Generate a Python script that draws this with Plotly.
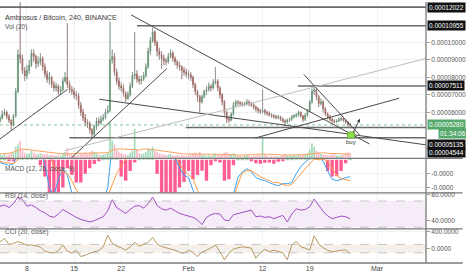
import pandas as pd
import plotly.graph_objects as go
from plotly.subplots import make_subplots

# ---------------- data (prices in 1e-5 BTC) ----------------
candle_start = "2018-01-04 00:00"
candle_step = "8h"
first_open = 5.5
closes = [5.66,5.9,6.0,5.75,5.55,5.3,5.8,7.2,9.3,9.1,
          8.4,8.1,8.4,8.7,9.4,9.2,8.8,8.9,9.1,8.6,
          8.2,7.9,8.0,7.6,7.4,7.5,7.2,7.3,7.8,8.0,
          7.6,7.3,7.2,7.0,6.95,6.4,6.0,5.7,5.4,5.35,
          5.0,4.75,5.2,5.5,5.4,5.6,5.7,6.0,6.1,9.0,
          9.2,8.3,7.8,7.5,7.4,7.1,6.8,7.0,7.5,8.1,
          8.2,7.9,7.8,7.9,8.1,8.6,9.5,10.1,10.6,10.0,
          9.5,9.3,9.1,8.95,8.9,9.2,9.4,9.1,8.9,8.7,
          8.6,8.4,8.3,8.2,8.15,8.0,7.6,7.2,6.9,6.6,
          6.9,7.2,7.3,7.5,7.4,7.7,7.8,7.4,7.0,6.6,
          6.0,5.6,5.55,5.9,6.4,6.6,6.55,6.5,6.45,6.5,
          6.6,6.5,6.45,6.3,6.2,6.1,6.05,6.1,6.0,5.95,
          5.85,5.8,5.75,5.7,5.75,5.6,5.5,5.45,5.55,5.6,
          5.75,5.8,5.85,6.0,5.8,5.6,5.85,6.1,6.6,7.2,
          7.3,6.9,6.5,6.6,6.2,5.9,5.75,5.6,5.5,5.45,
          5.5,5.6,5.65,5.55,5.45,5.3,5.28]
highs = [5.8,6.1,6.2,6.1,5.9,5.6,5.9,7.4,9.6,12.3,
         9.3,8.6,8.7,9.0,9.6,9.6,9.3,9.2,9.4,9.2,
         8.8,8.4,8.3,8.1,7.8,7.7,7.6,7.5,8.0,8.3,
         11.1,7.8,7.5,7.4,7.2,7.1,6.6,6.2,5.9,5.6,
         5.5,5.1,5.3,5.7,5.7,5.8,5.9,6.2,6.4,11.2,
         9.6,9.4,8.5,8.0,7.7,7.6,7.2,7.2,7.7,8.3,
         10.6,8.4,8.1,8.1,8.3,8.8,9.7,10.3,10.85,10.7,
         10.1,9.7,9.5,9.3,9.1,9.4,9.6,9.5,9.2,9.0,
         8.9,8.7,8.6,8.5,8.4,8.3,8.1,7.7,7.3,7.0,
         7.0,7.3,7.5,7.7,7.6,7.9,8.6,7.9,7.5,7.1,
         6.7,6.1,5.8,6.0,6.6,6.7,6.7,6.65,6.6,6.6,
         6.75,6.7,6.6,6.55,6.4,6.3,6.2,7.3,6.2,6.1,
         6.05,5.95,5.9,5.85,5.85,5.8,5.7,5.6,5.65,5.7,
         5.85,5.9,5.95,6.1,6.05,5.85,5.95,6.2,6.7,7.35,
         7.5,7.4,7.0,6.8,6.7,6.3,6.0,5.85,5.7,5.6,
         5.6,5.7,5.75,5.7,5.6,5.5,5.4]
lows = [5.4,5.6,5.8,5.6,5.4,5.0,5.2,5.7,7.1,8.8,
        8.2,7.8,7.9,8.2,8.6,8.9,8.5,8.6,8.7,8.4,
        8.0,7.7,7.6,7.4,7.2,7.2,7.0,7.0,7.2,7.7,
        7.4,7.1,7.0,6.8,6.7,6.2,5.8,5.5,5.2,5.1,
        4.8,4.55,4.6,5.0,5.2,5.3,5.5,5.6,5.9,6.0,
        8.8,8.1,7.6,7.3,7.2,6.9,6.6,6.7,6.9,7.4,
        7.9,7.7,7.6,7.6,7.8,8.0,8.5,9.3,10.0,9.8,
        9.2,9.0,8.5,8.7,8.7,8.8,9.1,8.9,8.7,8.5,
        8.4,7.9,8.1,8.0,7.9,7.8,7.4,7.0,6.6,6.0,
        6.5,6.8,7.0,7.2,7.2,7.3,7.6,7.2,6.8,6.4,
        5.8,5.4,5.4,5.5,5.8,6.3,6.4,6.35,6.35,6.35,
        6.4,6.35,6.3,6.15,6.05,5.95,5.9,5.95,5.85,5.8,
        5.75,5.7,5.65,5.6,5.6,5.5,5.4,5.2,5.35,5.45,
        5.5,5.65,5.7,5.75,5.7,5.45,5.5,5.75,6.0,6.5,
        7.0,6.7,6.3,6.4,6.0,5.8,5.6,5.5,5.4,5.35,
        5.4,5.45,5.5,5.45,5.35,5.2,5.2]
volume = [6,5,7,5,6,8,9,18,22,28,
          14,9,7,8,12,9,7,6,8,7,
          6,7,5,6,5,4,5,4,8,10,
          16,8,6,5,4,6,7,8,9,7,
          9,12,10,8,6,5,6,7,9,59,
          28,22,14,10,8,7,6,5,9,12,
          47,14,9,7,8,10,16,14,18,12,
          10,8,7,6,5,6,7,5,4,5,
          4,5,4,4,5,6,8,9,7,10,
          6,5,4,5,4,6,8,5,6,7,
          9,10,6,7,8,5,4,4,3,4,
          5,4,3,4,4,5,5,32,6,4,
          3,4,3,4,3,4,5,7,5,4,
          4,5,4,6,5,5,6,8,14,24,
          18,12,9,7,6,6,5,5,6,7,
          5,4,5,6,7,9,8]
# indicator readings, one every 2 candles
ind_every = 2
vol_ma = [7,7,8,10,13,15,14,13,12,11,
          10,9,8,7,7,7,8,8,8,8,
          9,9,8,8,9,13,15,15,14,14,
          14,13,15,15,14,13,12,10,9,8,
          7,7,7,7,7,7,7,7,6,6,
          6,6,6,5,5,5,5,6,7,7,
          7,6,6,5,5,5,5,5,6,7,
          8,9,9,8,8,7,7,7,7]
macd_line = [-1,-1.5,-2,-1.5,3,6,7,8,8,4,
             -2,-10,-13,-7,-3.3,-5.5,-12,-15,-16,-16,
             -16,-16,-16,-15,-10,5,6,5,4,4,
             4,3,3,4,5,4,3,2,1.5,0.5,
             -2.9,-5.5,-6.4,-11,-14,-15,-15,-15,-15,-15,
             -15,-15,-12.5,-6.4,-4.3,-3.2,-4.3,-6.4,-7.1,-7.5,
             -8.2,-8.9,-9.3,-8.6,-8.6,-8.2,-5,-2.5,-0.8,0.3,
             2,1,-0.5,-4,-7,-7.5,-7.1,-6.4,-6.1]
signal_line = [-0.5,-1,-1.2,-1.3,0,2,4,5.5,6.5,6,
               5,2,-2.5,-3.9,-4.3,-5,-7.5,-11,-13,-14,
               -14,-14,-14,-14,-13,-9,-5,-2,0.5,2,
               3,3.5,3.5,3.5,4,4,3.5,3,2,1,
               -1.5,-3.9,-5.3,-6.8,-11,-14,-14,-14,-14,-14,
               -14,-14,-14,-9,-4.6,-3.9,-3.9,-5,-6.1,-6.8,
               -7.5,-8.2,-8.2,-8.9,-9.3,-8.9,-7,-5,-3.2,-1.4,
               0.3,0,0.2,-0.4,-3,-5.7,-6.8,-7.1,-7.5]
macd_hist = [0.5,0.3,-0.5,-0.2,1,2,2,1.5,1,-2,
             -6,-14,-14,-14,-10,-3,-5.5,-8.2,-8.2,-5,
             -3,-1.5,-0.5,0.3,2,4,1,-6,-7.5,-4,
             -1,0.5,1,2,1,-5,-14,-14,-12,-14,
             -10,-8,-4,-7,-5.5,-3.9,-7.5,-2,-0.5,-1,
             -7.5,-7,-2,0.5,0.5,0.3,-0.3,-1.2,-1.4,-1.1,
             -1,-1.4,-0.7,-0.3,0.2,0.5,2,3,3,2,
             1,1,0.4,-4,-6,-5.7,-4,-1.2,0.4]
rsi = [62,64,60,66,76,72,62,64,60,55,
       52,47,45,50,57,53,48,45,42,40,
       38,40,43,46,55,72,60,55,51,57,
       62,63,59,66,76,63,58,56,59,55,
       51,49,47,45,41,34,45,49,51,50,
       41,40,49,51,52,54,56,46,47,45,
       46,43,46,48,38,50,58,56,57,61,
       73,64,54,47,43,45,47,46,43]
cci = [162,240,100,120,170,130,83,90,70,40,
       -60,-95,-105,-50,83,-60,-110,-40,-190,-160,
       -110,-70,-45,40,321,130,60,20,-36,40,
       150,60,100,150,270,110,50,15,-10,-36,
       -90,-110,-36,-90,-190,-80,-40,20,83,-70,
       -270,-110,-10,20,43,30,10,-230,-100,-20,
       -76,-36,-60,-100,-270,83,170,43,10,-36,
       310,110,20,-40,-76,-50,-40,-30,-115]

x_end = "2018-03-08 06:30"
tick_dates = ["2018-01-08", "2018-01-15", "2018-01-22", "2018-02-01",
              "2018-02-12", "2018-02-19", "2018-03-01"]
tick_labels = ["8", "15", "22", "Feb", "12", "19", "Mar"]
price_ticks = [6, 7, 8, 9, 10]

# drawings (date, price) in 1e-5 BTC
h_levels = [12.022, 10.955, 7.511, 5.135, 4.544]
h_starts = ["2018-01-04 00:00", "2018-01-24 08:20", "2018-02-17 06:00",
            "2018-01-31 14:00", "2018-01-14 07:40"]
label_shift = [0, 0, 0, -17, -15]
dark_lines = [("2018-01-04 00:00", 4.48, "2018-01-14 00:45", 7.32),
              ("2018-01-14 15:00", 3.40, "2018-01-28 18:45", 8.51),
              ("2018-01-23 11:15", 11.58, "2018-02-27 21:00", 4.19),
              ("2018-02-18 03:00", 8.17, "2018-02-26 09:20", 4.71),
              ("2018-01-18 18:00", 6.75, "2018-03-08 06:30", 4.14),
              ("2018-02-10 21:50", 4.53, "2018-03-04 07:00", 6.81)]
light_lines = [("2018-01-13 14:10", 3.80, "2018-03-08 06:30", 9.08)]
arrow_line = ("2018-02-25 08:40", 4.76, "2018-02-26 11:15", 5.64)
buy_box = ("2018-02-24 14:50", 4.53, "2018-02-25 15:40", 4.88)
buy_text_pos = ("2018-02-25 03:00", 4.31)
last_price = 5.28
countdown = "01:34:06"

# ---------------- figure ----------------
dates = pd.date_range(candle_start, periods=len(closes), freq=candle_step)
ind_dates = dates[::ind_every]
opens = [first_open] + closes[:-1]

FONT = "Liberation Sans"
GRID = "#eef0f3"

fig = make_subplots(rows=4, cols=1, shared_xaxes=True, vertical_spacing=0)

# volume (overlay on main pane)
vol_colors = ["rgba(90,190,130,0.55)" if c >= o else "rgba(245,120,150,0.5)"
              for o, c in zip(opens, closes)]
fig.add_trace(go.Bar(x=dates, y=volume, marker_color=vol_colors, marker_line_width=0,
                     xaxis="x", yaxis="y5", hoverinfo="skip", showlegend=False))
fig.add_trace(go.Scatter(x=ind_dates, y=vol_ma, mode="lines", line=dict(color="#f7a35c", width=1),
                         xaxis="x", yaxis="y5", hoverinfo="skip", showlegend=False))

# wicks
wx, wy = [], []
for d, lo, hi in zip(dates, lows, highs):
    wx += [d, d, None]
    wy += [lo, hi, None]
fig.add_trace(go.Scatter(x=wx, y=wy, mode="lines", line=dict(color="#8c8c8c", width=0.8),
                         hoverinfo="skip", showlegend=False), row=1, col=1)
fig.add_trace(go.Candlestick(x=dates, open=opens, high=highs, low=lows, close=closes,
                             increasing=dict(line=dict(color="#2f8a50", width=0.4), fillcolor="#3c9e5e"),
                             decreasing=dict(line=dict(color="#9e2f25", width=0.4), fillcolor="#c0392b"),
                             whiskerwidth=0, hoverinfo="skip", showlegend=False), row=1, col=1)

# MACD
hist_colors = ["#ff5c93" if v < 0 else "#a5d6a7" for v in macd_hist]
fig.add_trace(go.Bar(x=ind_dates, y=macd_hist, marker_color=hist_colors, marker_line_width=0,
                     hoverinfo="skip", showlegend=False), row=2, col=1)
fig.add_trace(go.Scatter(x=ind_dates, y=macd_line, mode="lines", line=dict(color="#3aa0f0", width=1),
                         hoverinfo="skip", showlegend=False), row=2, col=1)
fig.add_trace(go.Scatter(x=ind_dates, y=signal_line, mode="lines", line=dict(color="#ff9a45", width=1),
                         hoverinfo="skip", showlegend=False), row=2, col=1)

# RSI
fig.add_trace(go.Scatter(x=ind_dates, y=rsi, mode="lines", line=dict(color="#a04cc4", width=1),
                         hoverinfo="skip", showlegend=False), row=3, col=1)
# CCI
fig.add_trace(go.Scatter(x=ind_dates, y=cci, mode="lines", line=dict(color="#b8965e", width=1),
                         hoverinfo="skip", showlegend=False), row=4, col=1)

# domains / ranges
dom_main = [0.4011, 1.0]
dom_macd = [0.2688, 0.4011]
dom_rsi = [0.1304, 0.2688]
dom_cci = [0.0, 0.1304]

yax_common = dict(side="right", showline=False, gridcolor=GRID, zeroline=False,
                  ticks="outside", ticklen=3, tickcolor="#999",
                  tickfont=dict(family=FONT, size=6.5, color="#555"), fixedrange=True)

fig.update_layout(
    yaxis=dict(domain=dom_main, range=[3.369, 12.318], tickvals=price_ticks,
               ticktext=[f"{v * 1e-5:.8f}" for v in price_ticks], **yax_common),
    yaxis2=dict(domain=dom_macd, range=[-11.9, 0.54], tickvals=[-5, -10],
                ticktext=[f"{v * 1e-6:.4f}" for v in [-5, -10]], **yax_common),
    yaxis3=dict(domain=dom_rsi, range=[27.3, 82.4], tickvals=[40, 80],
                ticktext=[f"{v:.4f}" for v in [40, 80]], **yax_common),
    yaxis4=dict(domain=dom_cci, range=[-345, 471], tickvals=[0, 400],
                ticktext=[f"{v:.4f}" for v in [0, 400]], **yax_common),
    yaxis5=dict(overlaying="y", range=[0, 250], visible=False, fixedrange=True),
)
for i in range(1, 5):
    key = "xaxis" if i == 1 else f"xaxis{i}"
    fig.layout[key].update(range=[candle_start, x_end], tickvals=tick_dates, ticktext=tick_labels,
                           showgrid=True, gridcolor=GRID, showline=False, zeroline=False,
                           ticks="", showticklabels=(i == 4),
                           tickfont=dict(family=FONT, size=7, color="#444"),
                           rangeslider=dict(visible=False))

shapes = []
# bands
shapes.append(dict(type="rect", xref="paper", yref="y3", x0=0, x1=1, y0=30, y1=70,
                   fillcolor="rgba(156,39,176,0.09)", line_width=0, layer="below"))
for lv in (30, 70):
    shapes.append(dict(type="line", xref="paper", yref="y3", x0=0, x1=1, y0=lv, y1=lv,
                       line=dict(color="#b9b9b9", width=0.8, dash="dash")))
shapes.append(dict(type="rect", xref="paper", yref="y4", x0=0, x1=1, y0=-100, y1=100,
                   fillcolor="rgba(170,130,70,0.12)", line_width=0, layer="below"))
for lv in (-100, 100):
    shapes.append(dict(type="line", xref="paper", yref="y4", x0=0, x1=1, y0=lv, y1=lv,
                       line=dict(color="#b9b9b9", width=0.8, dash="dash")))
# price drawings
shapes.append(dict(type="line", xref="paper", yref="y", x0=0, x1=1, y0=last_price, y1=last_price,
                   line=dict(color="#5cb878", width=0.8, dash="dot")))
for lv, st in zip(h_levels, h_starts):
    shapes.append(dict(type="line", xref="x", yref="y", x0=st, x1=x_end, y0=lv, y1=lv,
                       line=dict(color="#6a6a6a", width=1.6)))
for (x0, y0, x1, y1) in dark_lines:
    shapes.append(dict(type="line", xref="x", yref="y", x0=x0, y0=y0, x1=x1, y1=y1,
                       line=dict(color="#4a4a4a", width=1)))
for (x0, y0, x1, y1) in light_lines:
    shapes.append(dict(type="line", xref="x", yref="y", x0=x0, y0=y0, x1=x1, y1=y1,
                       line=dict(color="#bdbdbd", width=1)))
shapes.append(dict(type="rect", xref="x", yref="y", x0=buy_box[0], y0=buy_box[1],
                   x1=buy_box[2], y1=buy_box[3], fillcolor="#8fe04a",
                   line=dict(color="#5c9e30", width=0.8)))
# pane separators and border
right_edge = 466 / 429
for yy in (dom_macd[1], dom_rsi[1], dom_cci[1], 0):
    shapes.append(dict(type="line", xref="paper", yref="paper", x0=0, x1=right_edge, y0=yy, y1=yy,
                       line=dict(color="#7a7a7a", width=1.3)))
shapes.append(dict(type="line", xref="paper", yref="paper", x0=1, x1=1, y0=0, y1=1,
                   line=dict(color="#7a7a7a", width=1.3)))

ann = []
ann.append(dict(xref="paper", yref="paper", x=0.008, y=0.966, xanchor="left", showarrow=False,
                text="Ambrosus / Bitcoin, 240, BINANCE",
                font=dict(family=FONT, size=7.2, color="#3a3a3a")))
ann.append(dict(xref="paper", yref="paper", x=0.008, y=0.928, xanchor="left", showarrow=False,
                text="Vol (20)", font=dict(family=FONT, size=6.5, color="#555")))
ann.append(dict(xref="paper", yref="paper", x=0.008, y=0.361, xanchor="left", showarrow=False,
                text="MACD (12, 26, close, 9)", font=dict(family=FONT, size=6.5, color="#555")))
ann.append(dict(xref="paper", yref="paper", x=0.008, y=0.232, xanchor="left", showarrow=False,
                text="RSI (14, close)", font=dict(family=FONT, size=6.5, color="#555")))
ann.append(dict(xref="paper", yref="paper", x=0.008, y=0.097, xanchor="left", showarrow=False,
                text="CCI (20, close)", font=dict(family=FONT, size=6.5, color="#555")))
for lv, sh in zip(h_levels, label_shift):
    ann.append(dict(xref="paper", yref="y", x=1, y=lv, xanchor="left", xshift=1, yshift=sh,
                    showarrow=False, text=f"{lv * 1e-5:.8f}", bgcolor="#111111", borderpad=1,
                    font=dict(family=FONT, size=6.5, color="white")))
ann.append(dict(xref="paper", yref="y", x=1, y=last_price, xanchor="left", xshift=1,
                showarrow=False, text=f"{last_price * 1e-5:.8f}", bgcolor="#55a96c", borderpad=1,
                font=dict(family=FONT, size=6.5, color="white")))
ann.append(dict(xref="paper", yref="y", x=1, y=last_price, xanchor="left", xshift=12, yshift=-9,
                showarrow=False, text=countdown, bgcolor="#55a96c", borderpad=1,
                font=dict(family=FONT, size=6.5, color="white")))
ann.append(dict(xref="x", yref="y", x=buy_text_pos[0], y=buy_text_pos[1], showarrow=False,
                text="buy", font=dict(family=FONT, size=6, color="#333")))
ann.append(dict(xref="x", yref="y", axref="x", ayref="y", x=arrow_line[2], y=arrow_line[3],
                ax=arrow_line[0], ay=arrow_line[1], text="", showarrow=True, arrowhead=2,
                arrowsize=0.8, arrowwidth=0.9, arrowcolor="#444"))

fig.update_layout(width=466, height=275, margin=dict(l=0, r=37, t=0, b=12),
                  paper_bgcolor="white", plot_bgcolor="white", showlegend=False,
                  bargap=0.25, shapes=shapes, annotations=ann,
                  font=dict(family=FONT))

fig.write_html("out.html")
